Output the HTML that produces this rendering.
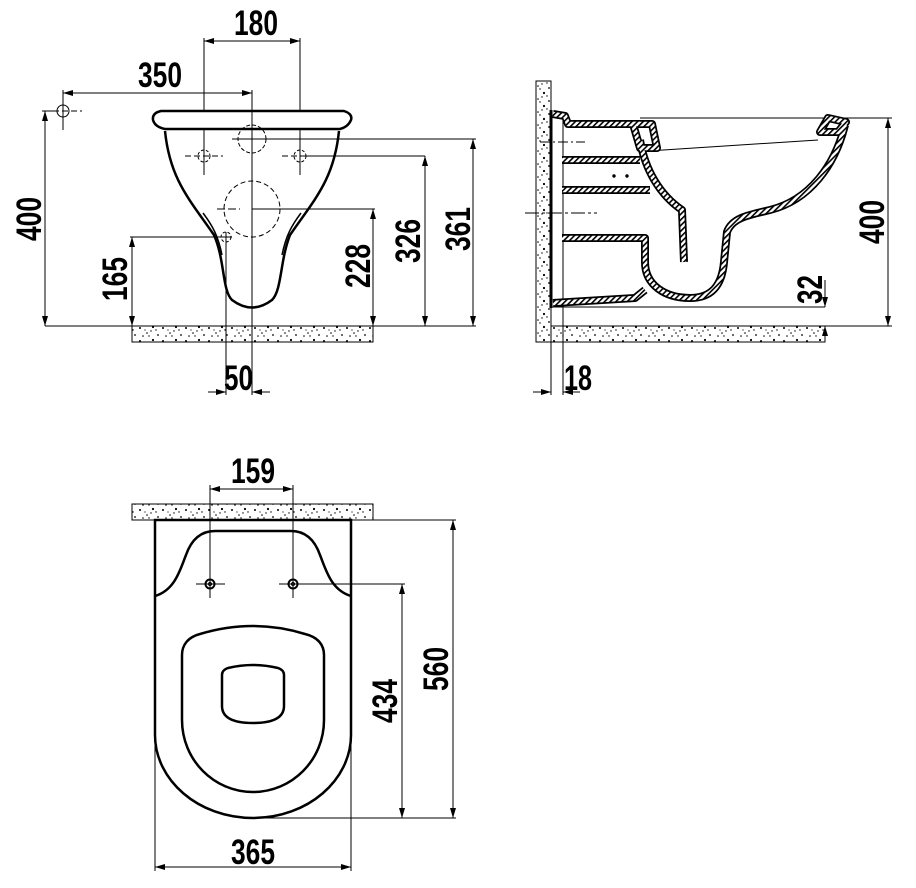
<!DOCTYPE html>
<html><head><meta charset="utf-8"><style>
html,body{margin:0;padding:0;background:#fff;}
svg{display:block;}
text{font-family:"Liberation Sans",sans-serif;font-size:35px;font-weight:bold;fill:#000;}
</style></head><body>
<svg width="916" height="888" viewBox="0 0 916 888" xmlns="http://www.w3.org/2000/svg">
<defs>
<pattern id="sp" width="23" height="13" patternUnits="userSpaceOnUse">
<rect width="23" height="13" fill="#fff"/>
<circle cx="2" cy="3" r="1"/><circle cx="9" cy="8" r="0.8"/><circle cx="15" cy="2" r="1.1"/><circle cx="20" cy="10" r="0.9"/><circle cx="5" cy="11" r="0.8"/><circle cx="13" cy="6" r="0.7"/><circle cx="18" cy="5" r="0.7"/><circle cx="7" cy="5" r="0.6"/><circle cx="11" cy="11" r="0.7"/>
</pattern>
<pattern id="ht" width="4" height="4" patternUnits="userSpaceOnUse" patternTransform="rotate(45)">
<rect width="4" height="4" fill="#fff"/><rect width="1.6" height="4" fill="#000"/>
</pattern>
<marker id="a" viewBox="0 0 10 6" refX="10" refY="3" markerWidth="10" markerHeight="6" orient="auto-start-reverse" markerUnits="userSpaceOnUse"><path d="M0,0L10,3L0,6z"/></marker>
</defs>
<g fill="none" stroke="#000" stroke-width="1">
<rect x="132" y="326" width="241" height="16" fill="url(#sp)"/>
<line x1="45" y1="326" x2="476" y2="326"/>
<line x1="204" y1="41" x2="300" y2="41" marker-start="url(#a)" marker-end="url(#a)"/>
<line x1="204" y1="38" x2="204" y2="175"/><line x1="300" y1="38" x2="300" y2="175"/>
<line x1="63" y1="93" x2="252" y2="93" marker-start="url(#a)" marker-end="url(#a)"/>
<line x1="63" y1="90" x2="63" y2="130"/>
<line x1="252" y1="90" x2="252" y2="395"/>
<circle cx="63" cy="111" r="6"/><line x1="44" y1="111" x2="82" y2="111" stroke-dasharray="6 3"/>
<line x1="45" y1="111" x2="45" y2="326" marker-start="url(#a)" marker-end="url(#a)"/>
<line x1="42" y1="111" x2="57" y2="111"/>
<path d="M161,111 L344,111 Q353,114 351,120 Q348,127 340,129 L165,129 Q155,127 153,120 Q152,113 161,111 Z" stroke-width="2.5" fill="#fff"/>
<path d="M165,131 C170,180 190,200 214,235 C225,260 222,290 232,300 Q252,315 272,300 C282,290 280,260 290,235 C314,200 334,180 339,131" stroke-width="2.5"/>
<path d="M203,213 C212,225 218,235 222,255 M301,213 C292,225 286,235 282,255" stroke-width="1.5"/>
<line x1="252" y1="105" x2="252" y2="395"/>
<circle cx="252" cy="139" r="14" stroke-dasharray="4 2"/>
<circle cx="252" cy="209" r="28" stroke-dasharray="5 3"/>
<circle cx="204" cy="156" r="6" stroke-dasharray="3 2"/>
<circle cx="300" cy="156" r="6" stroke-dasharray="3 2"/>
<circle cx="226" cy="237" r="5" stroke-dasharray="3 2"/>
<line x1="185" y1="156" x2="223" y2="156" stroke-dasharray="6 3"/>
<line x1="282" y1="156" x2="300" y2="156" stroke-dasharray="6 3"/>
<line x1="217" y1="209" x2="240" y2="209" stroke-dasharray="8 3"/>
<line x1="232" y1="139" x2="476" y2="139"/>
<line x1="473" y1="139" x2="473" y2="326" marker-start="url(#a)" marker-end="url(#a)"/>
<line x1="300" y1="156" x2="425" y2="156"/>
<line x1="425" y1="156" x2="425" y2="326" marker-start="url(#a)" marker-end="url(#a)"/>
<line x1="252" y1="209" x2="375" y2="209"/>
<line x1="373" y1="209" x2="373" y2="326" marker-start="url(#a)" marker-end="url(#a)"/>
<line x1="130" y1="237" x2="232" y2="237"/>
<line x1="132" y1="237" x2="132" y2="326" marker-start="url(#a)" marker-end="url(#a)"/>
<line x1="226" y1="232" x2="226" y2="395"/>
<line x1="208" y1="392" x2="226" y2="392" marker-end="url(#a)"/>
<line x1="270" y1="392" x2="252" y2="392" marker-end="url(#a)"/>

<rect x="536" y="81" width="15" height="261" fill="url(#sp)"/>
<rect x="551" y="326" width="274" height="16" fill="url(#sp)"/>
<line x1="551" y1="110" x2="551" y2="308" stroke-width="3"/>
<line x1="563" y1="118" x2="563" y2="395"/>
<line x1="551" y1="308" x2="551" y2="395"/>
<line x1="533" y1="392" x2="551" y2="392" marker-end="url(#a)"/>
<line x1="580" y1="392" x2="563" y2="392" marker-end="url(#a)"/>
<line x1="540" y1="142" x2="585" y2="142" stroke-dasharray="10 3 2 3"/>
<line x1="525" y1="213" x2="597" y2="213" stroke-dasharray="14 3 3 3"/>
<line x1="640" y1="118" x2="892" y2="118"/>
<line x1="888" y1="118" x2="888" y2="326" marker-start="url(#a)" marker-end="url(#a)"/>
<line x1="825" y1="326" x2="892" y2="326"/>
<line x1="551" y1="307" x2="825" y2="307"/>
<line x1="825" y1="280" x2="825" y2="307" marker-end="url(#a)"/>
<line x1="825" y1="342" x2="825" y2="326" marker-end="url(#a)"/>
<line x1="648" y1="151" x2="818" y2="140"/>
<g stroke-linejoin="round" stroke-linecap="butt">
<g stroke="#000" stroke-width="8">
<path d="M553,114 L565,116 L568,124 L640,124"/>
<path d="M562,160 L640,160"/>
<path d="M562,190 L650,190"/>
<path d="M562,238 L645,238 L645,262 C645,285 665,298 690,298 C712,298 722,285 724,262 L727,232 C732,218 748,215 770,210 C810,200 835,165 845,125"/>
<path d="M553,303 L635,298 L645,290"/>
<path d="M640,140 C645,170 660,195 682,210 L684,262"/>
<path d="M633,124 L652,124 L657,148 L640,148 Z"/>
<path d="M828,118 L846,122 L838,132 L820,132 Z"/>
</g>
<g stroke="url(#ht)" stroke-width="4.5">
<path d="M553,114 L565,116 L568,124 L640,124"/>
<path d="M562,160 L640,160"/>
<path d="M562,190 L650,190"/>
<path d="M562,238 L645,238 L645,262 C645,285 665,298 690,298 C712,298 722,285 724,262 L727,232 C732,218 748,215 770,210 C810,200 835,165 845,125"/>
<path d="M553,303 L635,298 L645,290"/>
<path d="M640,140 C645,170 660,195 682,210 L684,262"/>
<path d="M633,124 L652,124 L657,148 L640,148 Z"/>
<path d="M828,118 L846,122 L838,132 L820,132 Z"/>
</g>
</g>
<circle cx="614" cy="176" r="1.2" fill="#000"/><circle cx="627" cy="176" r="1.2" fill="#000"/>

<rect x="132" y="504" width="241" height="16" fill="url(#sp)"/>
<path d="M155,520 L351,520 L351,735 C351,780 308,818 253,818 C198,818 155,780 155,735 Z" stroke-width="2.5"/>
<path d="M155,596 C175,590 180,570 186,555 C193,535 205,531 215,531 L291,531 C301,531 313,535 320,555 C326,570 331,590 351,596" stroke-width="2.5"/>
<path d="M182,655 C182,645 188,637 200,634 Q253,618 305,634 C318,637 324,645 324,655 L324,720 C324,760 292,792 253,792 C214,792 182,760 182,720 Z" stroke-width="2.5"/>
<path d="M222,675 Q222,670 228,668 Q253,662 278,668 Q284,670 284,675 L284,706 Q284,723 253,723 Q222,723 222,706 Z" stroke-width="2.5"/>
<circle cx="210" cy="584" r="4.5" stroke-width="2"/><circle cx="210" cy="584" r="1.5"/>
<circle cx="293" cy="584" r="4.5" stroke-width="2"/><circle cx="293" cy="584" r="1.5"/>
<line x1="196" y1="584" x2="225" y2="584"/><line x1="279" y1="584" x2="405" y2="584"/>
<line x1="210" y1="485" x2="210" y2="598"/><line x1="293" y1="485" x2="293" y2="598"/>
<line x1="210" y1="489" x2="293" y2="489" marker-start="url(#a)" marker-end="url(#a)"/>
<line x1="351" y1="520" x2="456" y2="520"/>
<line x1="253" y1="818" x2="456" y2="818"/>
<line x1="402" y1="584" x2="402" y2="818" marker-start="url(#a)" marker-end="url(#a)"/>
<line x1="453" y1="520" x2="453" y2="818" marker-start="url(#a)" marker-end="url(#a)"/>
<line x1="155" y1="735" x2="155" y2="871"/><line x1="351" y1="735" x2="351" y2="871"/>
<line x1="155" y1="867" x2="351" y2="867" marker-start="url(#a)" marker-end="url(#a)"/>
</g>
<g>
<text x="234" y="35" textLength="44" lengthAdjust="spacingAndGlyphs">180</text>
<text x="138" y="87" textLength="44" lengthAdjust="spacingAndGlyphs">350</text>
<text x="224" y="390" textLength="29" lengthAdjust="spacingAndGlyphs">50</text>
<text x="564" y="390" textLength="28" lengthAdjust="spacingAndGlyphs">18</text>
<text x="231" y="483" textLength="44" lengthAdjust="spacingAndGlyphs">159</text>
<text x="231" y="864" textLength="44" lengthAdjust="spacingAndGlyphs">365</text>
<text transform="translate(41,241) rotate(-90)" textLength="44" lengthAdjust="spacingAndGlyphs">400</text>
<text transform="translate(127,301) rotate(-90)" textLength="44" lengthAdjust="spacingAndGlyphs">165</text>
<text transform="translate(370,288) rotate(-90)" textLength="44" lengthAdjust="spacingAndGlyphs">228</text>
<text transform="translate(420,263) rotate(-90)" textLength="44" lengthAdjust="spacingAndGlyphs">326</text>
<text transform="translate(470,251) rotate(-90)" textLength="44" lengthAdjust="spacingAndGlyphs">361</text>
<text transform="translate(884,244) rotate(-90)" textLength="44" lengthAdjust="spacingAndGlyphs">400</text>
<text transform="translate(822,304) rotate(-90)" textLength="29" lengthAdjust="spacingAndGlyphs">32</text>
<text transform="translate(397,723) rotate(-90)" textLength="44" lengthAdjust="spacingAndGlyphs">434</text>
<text transform="translate(448,691) rotate(-90)" textLength="44" lengthAdjust="spacingAndGlyphs">560</text>
</g>
</svg>
</body></html>
